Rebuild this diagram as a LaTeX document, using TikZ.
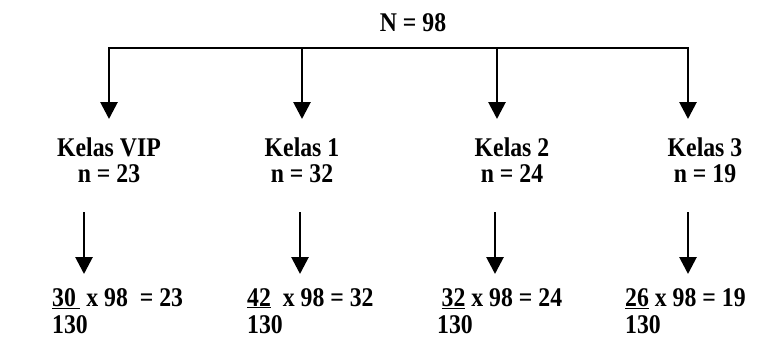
\documentclass[tikz,border=0pt]{standalone}
\usepackage{fontspec}
\setmainfont{Liberation Serif}[FakeStretch=0.88]
\usetikzlibrary{arrows.meta}
\begin{document}
\begin{tikzpicture}[x=1pt,y=-1pt,
  lbl/.style={font=\fontsize{27}{26}\selectfont\bfseries, inner sep=0pt, align=center},
  frm/.style={font=\fontsize{27}{27}\selectfont\bfseries, inner sep=0pt, align=left, anchor=north west},
  tip/.style={-{Triangle[length=17pt,width=17pt]}},
  arr/.style={line width=2.8pt, tip},
  bar/.style={line width=2.8pt, {Triangle[length=17pt,width=17pt]}-{Triangle[length=17pt,width=17pt]}}]
\useasboundingbox (0,0) rectangle (763,340);
% top label
\node[lbl] (N) at (413,23) {N = 98};
% bar coordinates
\coordinate (h1) at (109,48);
\coordinate (h2) at (302,48);
\coordinate (h3) at (497,48);
\coordinate (h4) at (688,48);
\coordinate (t1) at (109,119);
\coordinate (t2) at (302,119);
\coordinate (t3) at (497,119);
\coordinate (t4) at (688,119);
\draw[bar] (t1) -- (h1) -- (h4) -- (t4);
\draw[arr] (h2) -- (t2);
\draw[arr] (h3) -- (t3);
% class nodes
\node[lbl] (k1) at (109,160) {Kelas VIP\\n = 23};
\node[lbl] (k2) at (302,160) {Kelas 1\\n = 32};
\node[lbl] (k3) at (512,160) {Kelas 2\\n = 24};
\node[lbl] (k4) at (705,160) {Kelas 3\\n = 19};
% lower arrows
\coordinate (s1) at (84,212);
\coordinate (s2) at (300,212);
\coordinate (s3) at (495,212);
\coordinate (s4) at (688,212);
\coordinate (e1) at (84,274);
\coordinate (e2) at (300,274);
\coordinate (e3) at (495,274);
\coordinate (e4) at (688,274);
\foreach \i in {1,2,3,4} \draw[arr] (s\i) -- (e\i);
% formulas
\node[frm] (f1) at (52,288) {\underline{30\,}\ x 98\ \ = 23\\130};
\node[frm] (f2) at (247,288) {\underline{42}\ \ x 98 = 32\\130};
\node[frm] (f3) at (437,288) {\,\underline{32} x 98 = 24\\130};
\node[frm] (f4) at (625,288) {\underline{26} x 98 = 19\\130};
\end{tikzpicture}
\end{document}
